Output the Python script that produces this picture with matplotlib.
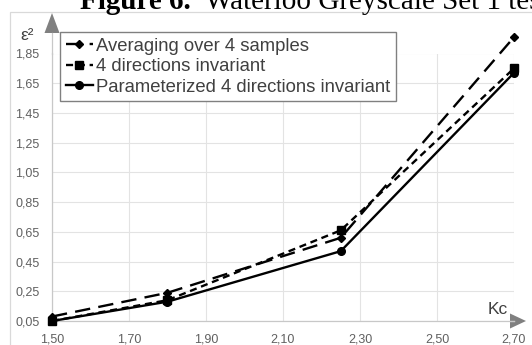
import matplotlib
matplotlib.use("Agg")
import matplotlib.pyplot as plt
from matplotlib.patches import Polygon, Rectangle
from matplotlib.lines import Line2D

# Data
kc = [1.50, 1.80, 2.25, 2.70]
averaging = [0.08, 0.24, 0.61, 1.96]
directions4 = [0.05, 0.19, 0.66, 1.75]
param_directions4 = [0.05, 0.18, 0.52, 1.72]

series_labels = ["Averaging over 4 samples",
                 "4 directions invariant",
                 "Parameterized 4 directions invariant"]

x_ticks = [1.50, 1.70, 1.90, 2.10, 2.30, 2.50, 2.70]
x_tick_labels = ["1,50", "1,70", "1,90", "2,10", "2,30", "2,50", "2,70"]
y_ticks = [0.05, 0.25, 0.45, 0.65, 0.85, 1.05, 1.25, 1.45, 1.65, 1.85]
y_tick_labels = ["0,05", "0,25", "0,45", "0,65", "0,85", "1,05", "1,25",
                 "1,45", "1,65", "1,85"]

W, H = 532, 345
fig = plt.figure(figsize=(W / 100, H / 100), dpi=100)
fig.patch.set_facecolor("white")

# axes placement in pixels
ax_l, ax_r, ax_t, ax_b = 52, 514, 53.5, 321
ax = fig.add_axes([ax_l / W, 1 - ax_b / H, (ax_r - ax_l) / W, (ax_b - ax_t) / H])
ax.set_xlim(x_ticks[0], x_ticks[-1])
ax.set_ylim(y_ticks[0], y_ticks[-1])

# chart-area frame
fig.add_artist(Rectangle((10 / W, -0.2), 1.2, 1.2 - 12 / H,
                         transform=fig.transFigure, fill=False,
                         edgecolor="#d9d9d9", linewidth=0.9))

# title line (runs past the top and right edges of the canvas)
fig.text(80 / W, 1 - 9 / H, "Figure 6.", family="Liberation Serif",
         weight="bold", fontsize=21, ha="left", va="baseline", color="black")
fig.text(205 / W, 1 - 9 / H, "Waterloo Greyscale Set 1 test",
         family="Liberation Serif", fontsize=21, ha="left", va="baseline",
         color="black")

# grid and axes styling
ax.set_xticks(x_ticks)
ax.set_xticklabels(x_tick_labels)
ax.set_yticks(y_ticks)
ax.set_yticklabels(y_tick_labels)
ax.grid(True, color="#e3e3e3", linewidth=0.8)
ax.set_axisbelow(True)
for s in ["top", "right"]:
    ax.spines[s].set_visible(False)
for s in ["left", "bottom"]:
    ax.spines[s].set_color("#c8c8c8")
    ax.spines[s].set_linewidth(0.9)
ax.tick_params(length=0, labelsize=9, labelcolor="#606060")
ax.tick_params(axis="y", pad=9)
ax.tick_params(axis="x", pad=9)
for lab in ax.get_xticklabels() + ax.get_yticklabels():
    lab.set_family("Liberation Sans")

# series
lw = 1.7
ax.plot(kc, averaging, color="black", lw=lw, linestyle=(0, (6.5, 3.5)),
        marker="D", markersize=4.5, clip_on=False, zorder=4,
        label=series_labels[0])
ax.plot(kc, directions4, color="black", lw=lw, linestyle=(0, (3, 2)),
        marker="s", markersize=6, clip_on=False, zorder=4,
        label=series_labels[1])
ax.plot(kc, param_directions4, color="black", lw=lw, linestyle="-",
        marker="o", markersize=5.5, clip_on=False, zorder=3,
        label=series_labels[2])

# axis arrows
ah = ax_b - ax_t
aw = ax_r - ax_l
ax.add_line(Line2D([0, 0], [1, 1 + (ax_t - 33) / ah], transform=ax.transAxes,
                   color="#c8c8c8", lw=0.9, clip_on=False))
ax.add_line(Line2D([1, 1 + (510 - ax_r) / aw], [0, 0], transform=ax.transAxes,
                   color="#c8c8c8", lw=0.9, clip_on=False))
up = Polygon([(-7.5 / aw, 1 + (ax_t - 33) / ah),
              (7.5 / aw, 1 + (ax_t - 33) / ah),
              (0, 1 + (ax_t - 13) / ah)],
             closed=True, transform=ax.transAxes, facecolor="#808080",
             edgecolor="none", clip_on=False)
right = Polygon([(1 + (510 - ax_r) / aw, 7.5 / ah),
                 (1 + (510 - ax_r) / aw, -7.5 / ah),
                 (1 + (526 - ax_r) / aw, 0)],
                closed=True, transform=ax.transAxes, facecolor="#808080",
                edgecolor="none", clip_on=False)
ax.add_patch(up)
ax.add_patch(right)

# axis names
fig.text(27 / W, 1 - 35 / H, "ε²", family="Liberation Sans", fontsize=12.5,
         ha="center", va="center", color="#404040")
fig.text(498 / W, 1 - 309 / H, "Kc", family="Liberation Sans", fontsize=12.5,
         ha="center", va="center", color="#404040")

# legend
leg = ax.legend(loc="upper left", bbox_to_anchor=(60 / W, 1 - 32 / H),
                bbox_transform=fig.transFigure, borderaxespad=0,
                prop={"family": "Liberation Sans", "size": 13.3},
                frameon=True, fancybox=False, framealpha=1, edgecolor="#808080",
                handlelength=1.5, handletextpad=0.15, labelspacing=0.2,
                borderpad=0.3, numpoints=1)
leg.get_frame().set_linewidth(1.0)
for t in leg.get_texts():
    t.set_color("#404040")

fig.savefig("out.png", dpi=100, facecolor="white")
